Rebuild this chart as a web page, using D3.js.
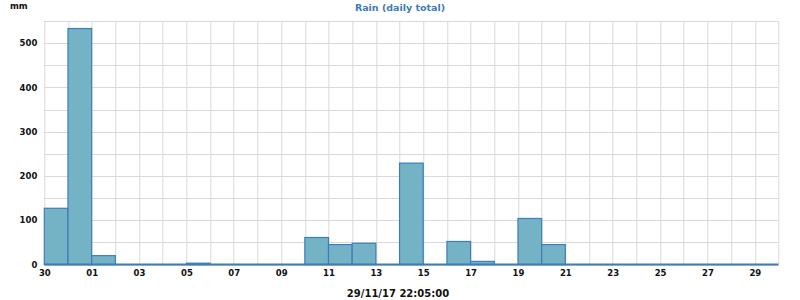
<!DOCTYPE html>
<html>
<head>
<meta charset="utf-8">
<script src="https://cdn.jsdelivr.net/npm/d3@7"></script>
<style>
  body { margin: 0; background: #fff; }
  text { font-family: "DejaVu Sans", sans-serif; }
</style>
</head>
<body>
<script>
// one bar per day, 30 Oct -> 29 Nov
var days = ["30","31","01","02","03","04","05","06","07","08","09","10","11","12","13","14",
            "15","16","17","18","19","20","21","22","23","24","25","26","27","28","29"];
var rain = [127,533,20,0,0,0,3,0,0,0,0,61,45,48,0,229,0,52,7,0,104,45,0,0,0,0,0,0,0,0,0];
var yTicks = [0,100,200,300,400,500];
var yGrid = [0,50,100,150,200,250,300,350,400,450,500,550];
var xTicks = d3.range(0, 31, 2);   // every other day is labelled

var svg = d3.select("body").append("svg").attr("width", 800).attr("height", 300),
    margin = {top: 21, right: 21.5, bottom: 35.5, left: 44.3},
    width = 800 - margin.left - margin.right,
    height = 300 - margin.top - margin.bottom;

var x = d3.scaleLinear().domain([0, days.length]).range([0, width]),
    y = d3.scaleLinear().domain([0, 550]).range([height, 0]);

var g = svg.append("g")
    .attr("transform", "translate(" + margin.left + "," + margin.top + ")");

// grid
g.append("g").selectAll("line")
  .data(d3.range(0, days.length + 1))
  .enter().append("line")
    .attr("x1", function(d) { return Math.round(x(d)) + 0.5; })
    .attr("x2", function(d) { return Math.round(x(d)) + 0.5; })
    .attr("y1", 0).attr("y2", height)
    .attr("stroke", "#d9d9d9");

g.append("g").selectAll("line")
  .data(yGrid)
  .enter().append("line")
    .attr("x1", 0).attr("x2", width)
    .attr("y1", function(d) { return Math.round(y(d)) + 0.5; })
    .attr("y2", function(d) { return Math.round(y(d)) + 0.5; })
    .attr("stroke", "#d9d9d9");

// bars
g.selectAll(".bar")
  .data(rain)
  .enter().append("rect")
    .attr("class", "bar")
    .attr("x", function(d, i) { return x(i); })
    .attr("y", function(d) { return y(d); })
    .attr("width", function(d, i) { return x(i + 1) - x(i); })
    .attr("height", function(d) { return height - y(d); })
    .attr("fill", "#74b3c6")
    .attr("stroke", "#3d7db8")
    .attr("stroke-width", 1.2);

// axes
var yAxis = g.append("g")
    .call(d3.axisLeft(y).tickValues(yTicks).tickSize(0).tickPadding(7));
yAxis.select(".domain").remove();

var xAxis = g.append("g")
    .attr("transform", "translate(0," + height + ")")
    .call(d3.axisBottom(x).tickValues(xTicks).tickSize(0).tickPadding(5)
      .tickFormat(function(d) { return days[d]; }));
xAxis.select(".domain").remove();

g.selectAll(".tick text")
    .attr("font-family", "DejaVu Sans")
    .attr("font-size", "8.5px")
    .attr("font-weight", "bold")
    .attr("fill", "#111");

g.append("line")
    .attr("x1", 0).attr("x2", width)
    .attr("y1", height).attr("y2", height)
    .attr("stroke", "#3d7db8")
    .attr("stroke-width", 2);

// labels
svg.append("text")
    .attr("x", 400).attr("y", 11)
    .attr("text-anchor", "middle")
    .attr("font-size", "9.5px")
    .attr("font-weight", "bold")
    .attr("fill", "#3e7cb5")
    .text("Rain (daily total)");

svg.append("text")
    .attr("x", 10).attr("y", 9)
    .attr("font-size", "8.5px")
    .attr("font-weight", "bold")
    .attr("fill", "#111")
    .text("mm");

svg.append("text")
    .attr("x", 398).attr("y", 297)
    .attr("text-anchor", "middle")
    .attr("font-size", "10px")
    .attr("font-weight", "bold")
    .attr("fill", "#111")
    .text("29/11/17 22:05:00");
</script>
</body>
</html>
